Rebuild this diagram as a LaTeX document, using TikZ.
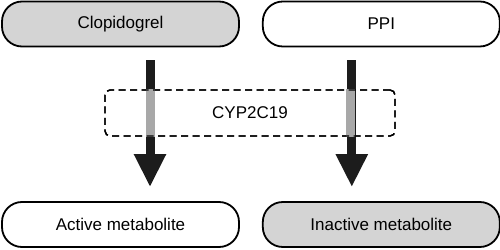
\documentclass[tikz,border=0pt]{standalone}
\usepackage{fontspec}
\setmainfont{Liberation Sans}
\usetikzlibrary{positioning,arrows.meta}
\definecolor{boxgray}{HTML}{D4D4D4}
\definecolor{shaftgray}{HTML}{A8A8A8}
\definecolor{arrowblack}{HTML}{1C1C1C}

\begin{document}
\begin{tikzpicture}[x=1pt,y=1pt,
		drug/.style={draw,line width=1.8pt,rounded corners=20pt,minimum width=237pt,minimum height=45pt,font=\fontsize{17}{20}\selectfont},
		enzyme/.style={draw,dashed,dash pattern=on 7pt off 4.5pt,line width=1.4pt,rounded corners=5pt,minimum width=290pt,minimum height=46pt,font=\fontsize{17}{20}\selectfont},
		flow/.style={arrowblack,line width=9pt,-{Triangle[length=33pt,width=30pt]},shorten <=13pt,shorten >=14pt}]
	\useasboundingbox (0,0) rectangle (500,249);
	\node[drug,fill=boxgray] (clop) at (120.5,225) {Clopidogrel};
	\node[drug,right=22pt of clop] (ppi) {PPI};
	\node[drug] (active) at (120.5,24.5) {Active metabolite};
	\node[drug,fill=boxgray,right=22pt of active] (inactive) {Inactive metabolite};
	\node[enzyme] (cyp) at (250,136) {};
	\node[font=\fontsize{17}{20}\selectfont] (cyplabel) at (cyp) {CYP2C19};
	% arrows through the enzyme box
	\draw[flow] ([xshift=29.5pt]clop.south) -- ([xshift=29.5pt]active.north);
	\draw[flow] ([xshift=-29.5pt]ppi.south) -- ([xshift=-29.5pt]inactive.north);
	\draw[shaftgray,line width=9pt] (cyp.north -| 150,0) -- (cyp.south -| 150,0);
	\draw[shaftgray,line width=9pt] (cyp.north -| 350,0) -- (cyp.south -| 350,0);
	\node[enzyme] at (cyp) {};
\end{tikzpicture}
\end{document}
